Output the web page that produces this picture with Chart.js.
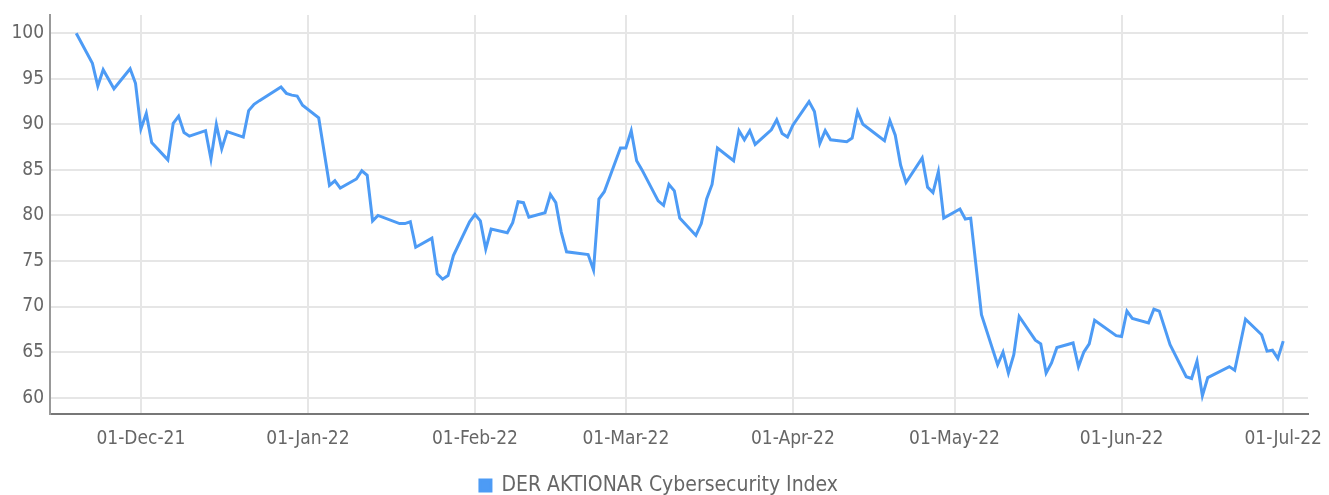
<!DOCTYPE html>
<html>
<head>
<meta charset="utf-8">
<script src="https://cdn.jsdelivr.net/npm/chart.js@4"></script>
<style>
  html, body { margin: 0; padding: 0; background: #fff; }
  #wrap { width: 1329px; height: 495px; }
</style>
</head>
<body>
<div id="wrap"><canvas id="chart"></canvas></div>
<script>
// Index values (trading days)
const dates = [
  '2021-11-19','2021-11-22','2021-11-23','2021-11-24','2021-11-26','2021-11-29','2021-11-30',
  '2021-12-01','2021-12-02','2021-12-03','2021-12-06','2021-12-07','2021-12-08','2021-12-09','2021-12-10',
  '2021-12-13','2021-12-14','2021-12-15','2021-12-16','2021-12-17','2021-12-20','2021-12-21','2021-12-22',
  '2021-12-23','2021-12-27','2021-12-28','2021-12-29','2021-12-30','2021-12-31',
  '2022-01-03','2022-01-05','2022-01-06','2022-01-07','2022-01-10','2022-01-11','2022-01-12','2022-01-13',
  '2022-01-14','2022-01-18','2022-01-19','2022-01-20','2022-01-21','2022-01-24','2022-01-25','2022-01-26',
  '2022-01-27','2022-01-28','2022-01-31',
  '2022-02-01','2022-02-02','2022-02-03','2022-02-04','2022-02-07','2022-02-08','2022-02-09','2022-02-10',
  '2022-02-11','2022-02-14','2022-02-15','2022-02-16','2022-02-17','2022-02-18','2022-02-22','2022-02-23',
  '2022-02-24','2022-02-25','2022-02-28',
  '2022-03-01','2022-03-02','2022-03-03','2022-03-04','2022-03-07','2022-03-08','2022-03-09','2022-03-10',
  '2022-03-11','2022-03-14','2022-03-15','2022-03-16','2022-03-17','2022-03-18','2022-03-21','2022-03-22',
  '2022-03-23','2022-03-24','2022-03-25','2022-03-28','2022-03-29','2022-03-30','2022-03-31',
  '2022-04-01','2022-04-04','2022-04-05','2022-04-06','2022-04-07','2022-04-08','2022-04-11','2022-04-12',
  '2022-04-13','2022-04-14','2022-04-18','2022-04-19','2022-04-20','2022-04-21','2022-04-22','2022-04-25',
  '2022-04-26','2022-04-27','2022-04-28','2022-04-29',
  '2022-05-02','2022-05-03','2022-05-04','2022-05-06','2022-05-09','2022-05-10','2022-05-11','2022-05-12',
  '2022-05-13','2022-05-16','2022-05-17','2022-05-18','2022-05-19','2022-05-20','2022-05-23','2022-05-24',
  '2022-05-25','2022-05-26','2022-05-27','2022-05-31',
  '2022-06-01','2022-06-02','2022-06-03','2022-06-06','2022-06-07','2022-06-08','2022-06-10','2022-06-13',
  '2022-06-14','2022-06-15','2022-06-16','2022-06-17','2022-06-21','2022-06-22','2022-06-24','2022-06-27',
  '2022-06-28','2022-06-29','2022-06-30','2022-07-01'
];
const indexValues = [
  100.0, 96.7, 94.2, 96.0, 93.9, 96.1, 94.5,
  89.5, 91.2, 88.0, 86.1, 90.1, 90.9, 89.1, 88.7,
  89.3, 86.2, 90.0, 87.3, 89.2, 88.6, 91.5, 92.2,
  92.6, 94.1, 93.4, 93.2, 93.1, 92.1,
  90.7, 83.3, 83.8, 83.0, 84.0, 84.9, 84.4, 79.4,
  80.0, 79.1, 79.1, 79.3, 76.5, 77.5, 73.6, 73.0,
  73.4, 75.6, 79.3,
  80.1, 79.4, 76.3, 78.5, 78.1, 79.2, 81.5, 81.4,
  79.8, 80.3, 82.3, 81.4, 78.2, 76.0, 75.7, 74.0,
  81.8, 82.6, 87.4,
  87.4, 89.3, 86.0, 85.0, 81.6, 81.1, 83.4, 82.7,
  79.7, 77.8, 79.1, 81.8, 83.4, 87.4, 86.0, 89.3,
  88.3, 89.3, 87.8, 89.4, 90.5, 89.0, 88.6,
  89.9, 92.5, 91.4, 87.9, 89.3, 88.3, 88.1, 88.5,
  91.4, 90.0, 88.2, 90.4, 88.8, 85.5, 83.6, 86.3,
  83.1, 82.5, 84.8, 79.7,
  80.7, 79.6, 79.7, 69.1, 63.6, 65.0, 62.7, 64.7,
  68.9, 66.3, 65.9, 62.7, 63.8, 65.5, 66.0, 63.4,
  65.0, 65.9, 68.5, 66.8,
  66.7, 69.5, 68.7, 68.2, 69.7, 69.5, 65.8, 62.3,
  62.1, 64.0, 60.2, 62.2, 63.4, 63.0, 68.6, 66.9,
  65.1, 65.2, 64.3, 66.2
];
const seriesLabel = 'DER AKTIONÄR Cybersecurity Index';

const xTickDates = ['2021-12-01','2022-01-01','2022-02-01','2022-03-01','2022-04-01','2022-05-01','2022-06-01','2022-07-01'];
const xTickLabels = ['01-Dec-21','01-Jan-22','01-Feb-22','01-Mar-22','01-Apr-22','01-May-22','01-Jun-22','01-Jul-22'];
const yTicks = [60, 65, 70, 75, 80, 85, 90, 95, 100];

const DAY = 86400000;
const toMs = s => Date.parse(s + 'T00:00:00Z');
const points = dates.map((d, i) => ({ x: toMs(d), y: indexValues[i] }));
const xTickMs = xTickDates.map(toMs);

const FONT = "'DejaVu Sans Condensed', 'Liberation Sans Narrow', sans-serif";
const TEXT = '#666';

new Chart(document.getElementById('chart'), {
  type: 'line',
  data: {
    datasets: [{
      label: seriesLabel,
      data: points,
      borderColor: '#4d9bf5',
      backgroundColor: '#4d9bf5',
      borderWidth: 3,
      pointRadius: 0,
      tension: 0,
      fill: false
    }]
  },
  options: {
    responsive: true,
    maintainAspectRatio: false,
    animation: false,
    layout: { padding: { top: 15, right: 21, left: 10, bottom: 0 } },
    plugins: {
      tooltip: { enabled: false },
      legend: {
        position: 'bottom',
        maxHeight: 20,
        labels: {
          color: TEXT,
          boxWidth: 11,
          boxHeight: 11,
          padding: 0,
          font: { family: FONT, size: 21 }
        }
      }
    },
    scales: {
      x: {
        type: 'linear',
        min: toMs('2021-11-14') + 0.13 * DAY,
        max: toMs('2022-07-05') + 0.6 * DAY,
        afterBuildTicks: axis => { axis.ticks = xTickMs.map(v => ({ value: v })); },
        afterFit: axis => {
          axis.height = 61;
          axis.paddingLeft = 0;
          axis.paddingRight = 0;
        },
        ticks: {
          autoSkip: false,
          maxRotation: 0,
          padding: 14,
          color: TEXT,
          font: { family: FONT, size: 19 },
          callback: v => xTickLabels[xTickMs.indexOf(v)]
        },
        grid: { color: '#e6e6e6', lineWidth: 2, drawTicks: false },
        border: { color: '#777', width: 2 }
      },
      y: {
        min: 58.2,
        max: 102,
        afterBuildTicks: axis => { axis.ticks = yTicks.map(v => ({ value: v })); },
        afterFit: axis => {
          axis.width = 40;
          axis.paddingTop = 0;
          axis.paddingBottom = 0;
        },
        ticks: {
          padding: 6,
          color: TEXT,
          font: { family: FONT, size: 19 }
        },
        grid: { color: '#e6e6e6', lineWidth: 2, drawTicks: false },
        border: { color: '#999', width: 2 }
      }
    }
  }
});
</script>
</body>
</html>
